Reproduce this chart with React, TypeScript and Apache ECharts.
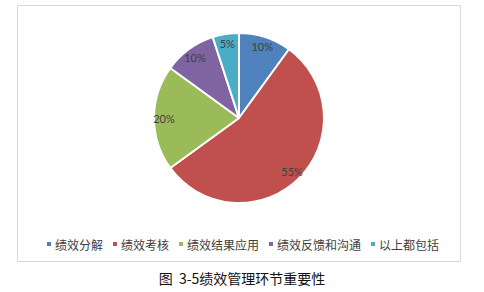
import React, { useEffect, useRef } from "react";
import * as echarts from "echarts";

const categories = ["绩效分解", "绩效考核", "绩效结果应用", "绩效反馈和沟通", "以上都包括"];
const values = [10, 55, 20, 10, 5];
const colors = ["#4F81BD", "#C0504D", "#9BBB59", "#8064A2", "#4BACC6"];
const caption = "图  3-5绩效管理环节重要性";

export default function App() {
  const ref = useRef<HTMLDivElement>(null);
  useEffect(() => {
    if (!ref.current) return;
    const chart = echarts.init(ref.current, null, { renderer: "svg" });
    const data = categories.map((name, i) => ({ name, value: values[i], itemStyle: { color: colors[i] } }));
    chart.setOption({
      animation: false,
      backgroundColor: "#ffffff",
      title: {
        text: caption,
        left: "center",
        top: 266,
        textStyle: { fontSize: 14, fontWeight: "normal", color: "#111", fontFamily: "Noto Sans CJK SC" },
      },
      graphic: [
        {
          type: "rect",
          shape: { x: 17.5, y: 5.5, width: 443, height: 256 },
          style: { fill: "none", stroke: "#D9D9D9", lineWidth: 1 },
          silent: true,
        },
      ],
      legend: {
        data: categories,
        left: "center",
        top: 233,
        icon: "rect",
        itemWidth: 6,
        itemHeight: 6,
        itemGap: 8,
        textStyle: { fontSize: 12, color: "#404040", fontFamily: "Noto Sans CJK SC", padding: [0, 0, 0, -2] },
      },
      series: [
        {
          type: "pie",
          center: [239, 118],
          radius: [0, 85],
          startAngle: 90,
          clockwise: true,
          label: { show: false },
          labelLine: { show: false },
          itemStyle: { borderColor: "#ffffff", borderWidth: 2 },
          data,
          silent: true,
        },
        {
          type: "pie",
          center: [239, 118],
          radius: [59, 85],
          startAngle: 90,
          clockwise: true,
          silent: true,
          itemStyle: { color: "rgba(0,0,0,0)" },
          label: {
            show: true,
            position: "inside",
            formatter: "{c}%",
            fontSize: 11,
            color: "#404040",
            fontFamily: "Lato",
          },
          labelLine: { show: false },
          data: categories.map((name, i) => ({ name, value: values[i], itemStyle: { color: "rgba(0,0,0,0)" } })),
        },
      ],
    });
    return () => chart.dispose();
  }, []);
  return <div ref={ref} style={{ position: "fixed", left: 0, top: 0, width: 484, height: 292 }} />;
}
